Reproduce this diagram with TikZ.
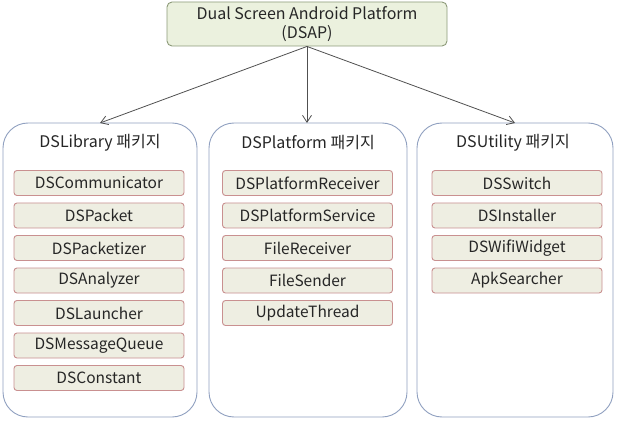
\documentclass[tikz,border=0pt]{standalone}
\usepackage{fontspec}
\setmainfont{Noto Sans CJK KR}
\usetikzlibrary{arrows.meta}
\definecolor{topfill}{HTML}{EBF1DE}
\definecolor{topdraw}{HTML}{8C9A78}
\definecolor{itemfill}{HTML}{EEEEE2}
\definecolor{itemdraw}{HTML}{C99090}
\definecolor{pkgdraw}{HTML}{90A0C0}
\definecolor{arrowc}{HTML}{505050}
\definecolor{txt}{HTML}{262626}
\tikzset{
  pkg/.style={draw=pkgdraw, line width=0.9pt, fill=white, rounded corners=25pt},
  topbox/.style={draw=topdraw, line width=0.9pt, fill=topfill, rounded corners=5pt, minimum width=280pt, minimum height=44pt, align=center, font=\fontsize{16}{19}\selectfont, text=txt, inner sep=0pt},
  item/.style={draw=itemdraw, line width=0.9pt, fill=itemfill, rounded corners=3pt, minimum width=170pt, minimum height=25pt, inner sep=0pt, text=txt, font=\fontsize{15.5}{18}\selectfont},
  ptitle/.style={font=\fontsize{16}{19}\selectfont, text=txt, inner sep=0pt},
  conn/.style={draw=arrowc, line width=0.8pt, -{Straight Barb[length=7pt,width=9pt]}}
}
\begin{document}
\begin{tikzpicture}[x=1pt,y=-1pt]
\useasboundingbox (0,0) rectangle (620,427);
\node[topbox] (top) at (307,24) {Dual Screen Android Platform\\(DSAP)};
% packages
\draw[pkg] (3,123) rectangle (197,417);
\draw[pkg] (209,123) rectangle (407,417);
\draw[pkg] (417,123) rectangle (613,417);
\coordinate (lib) at (100,123);
\coordinate (plat) at (307,123);
\coordinate (util) at (515,123);
\node[ptitle] (libt) at (100,143) {DSLibrary 패키지};
\node[ptitle] (platt) at (308,143) {DSPlatform 패키지};
\node[ptitle] (utilt) at (513,143) {DSUtility 패키지};
% items
\node[item] (l1) at (99,183) {DSCommunicator};
\node[item] (l2) at (99,215.5) {DSPacket};
\node[item] (l3) at (99,248) {DSPacketizer};
\node[item] (l4) at (99,280.5) {DSAnalyzer};
\node[item] (l5) at (99,313) {DSLauncher};
\node[item] (l6) at (99,345.5) {DSMessageQueue};
\node[item] (l7) at (99,378) {DSConstant};
\node[item] (p1) at (307.5,183) {DSPlatformReceiver};
\node[item] (p2) at (307.5,215.5) {DSPlatformService};
\node[item] (p3) at (307.5,248) {FileReceiver};
\node[item] (p4) at (307.5,280.5) {FileSender};
\node[item] (p5) at (307.5,313) {UpdateThread};
\node[item] (u1) at (517,183) {DSSwitch};
\node[item] (u2) at (517,215.5) {DSInstaller};
\node[item] (u3) at (517,248) {DSWifiWidget};
\node[item] (u4) at (517,280.5) {ApkSearcher};
% connectors
\draw[conn] (top.south) -- (lib);
\draw[conn] (top.south) -- (plat);
\draw[conn] (top.south) -- (util);
\end{tikzpicture}
\end{document}
